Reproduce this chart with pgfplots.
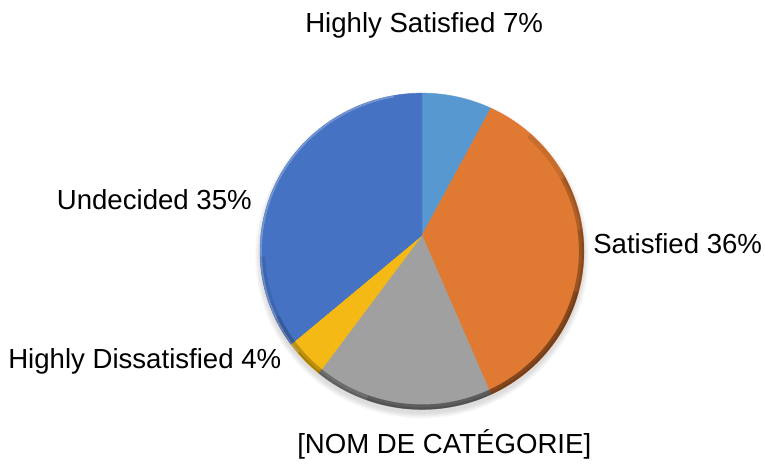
\documentclass[border=0pt]{standalone}
\usepackage{pgfplots}
\pgfplotsset{compat=1.18}
\usepackage{fontspec}
\setmainfont{Liberation Sans}

% slice colours
\definecolor{cHS}{HTML}{5898D0}
\definecolor{cS}{HTML}{E07A33}
\definecolor{cNC}{HTML}{A0A0A0}
\definecolor{cHD}{HTML}{F4B915}
\definecolor{cU}{HTML}{4572C3}

% shares (%): Highly Satisfied 7, Satisfied 36, [NOM] 18, Highly Dissatisfied 4, Undecided 35
% clockwise from 12 o'clock, 1% = 3.6 deg
% rim: ellipse centre (422,213), rx 162, ry 158 ; apex of the slices (422,229)

\begin{document}
\begin{tikzpicture}
\begin{axis}[
  scale only axis,
  width=573.75pt, height=348pt,
  xmin=0, xmax=765, ymin=0, ymax=464,
  hide axis, clip=false,
  every axis plot/.append style={variable=\t},
]
\path (rel axis cs:0,0) rectangle (rel axis cs:1,1);

% soft shadow under the pie
\pgfplotsinvokeforeach{1,2,3,4,5,6}{
  \addplot[fill=black, fill opacity=0.025, draw=none, domain=0:360, samples=90]
    ({422+(161+#1)*cos(\t)}, {209+(157+#1)*sin(\t)}) -- cycle;
}

% slices
\addplot[fill=cHS, draw=cHS, line width=0.3pt, domain=64.8:90, samples=20]
  ({422+162*cos(\t)}, {213+158*sin(\t)}) -- (422,229) -- cycle;
\addplot[fill=cS, draw=cS, line width=0.3pt, domain=-64.8:64.8, samples=80]
  ({422+162*cos(\t)}, {213+158*sin(\t)}) -- (422,229) -- cycle;
\addplot[fill=cNC, draw=cNC, line width=0.3pt, domain=-129.6:-64.8, samples=40]
  ({422+162*cos(\t)}, {213+158*sin(\t)}) -- (422,229) -- cycle;
\addplot[fill=cHD, draw=cHD, line width=0.3pt, domain=-144:-129.6, samples=15]
  ({422+162*cos(\t)}, {213+158*sin(\t)}) -- (422,229) -- cycle;
\addplot[fill=cU, draw=cU, line width=0.3pt, domain=90:216, samples=80]
  ({422+162*cos(\t)}, {213+158*sin(\t)}) -- (422,229) -- cycle;

% bevel: dark rim at lower right, light rim at upper left
\addplot[draw=black, draw opacity=0.10, line width=3.8pt, domain=-178:48, samples=90]
  ({422+159.5*cos(\t)}, {213+155.5*sin(\t)});
\addplot[draw=black, draw opacity=0.12, line width=3.8pt, domain=-155:28, samples=90]
  ({422+159.5*cos(\t)}, {213+155.5*sin(\t)});
\addplot[draw=black, draw opacity=0.12, line width=3.8pt, domain=-130:8, samples=90]
  ({422+159.5*cos(\t)}, {213+155.5*sin(\t)});
\addplot[draw=black, draw opacity=0.14, line width=3.8pt, domain=-110:-15, samples=60]
  ({422+159.5*cos(\t)}, {213+155.5*sin(\t)});
\addplot[draw=black, draw opacity=0.12, line width=1.5pt, domain=-150:30, samples=90]
  ({422+161*cos(\t)}, {213+157*sin(\t)});
\addplot[draw=white, draw opacity=0.25, line width=1.2pt, domain=100:220, samples=60]
  ({422+161*cos(\t)}, {213+157*sin(\t)});

% labels
\tikzset{lbl/.style={inner sep=0pt, font=\fontsize{20.7}{24}\selectfont}}
\node[lbl, anchor=base west] at (305,432) {Highly Satisfied 7\%};
\node[lbl, anchor=base west] at (593,211) {Satisfied 36\%};
\node[lbl, anchor=base west] at (297,11) {[NOM DE CATÉGORIE]};
\node[lbl, anchor=base west] at (8,96) {Highly Dissatisfied 4\%};
\node[lbl, anchor=base east] at (252,255) {Undecided 35\%};
\end{axis}
\end{tikzpicture}
\end{document}
